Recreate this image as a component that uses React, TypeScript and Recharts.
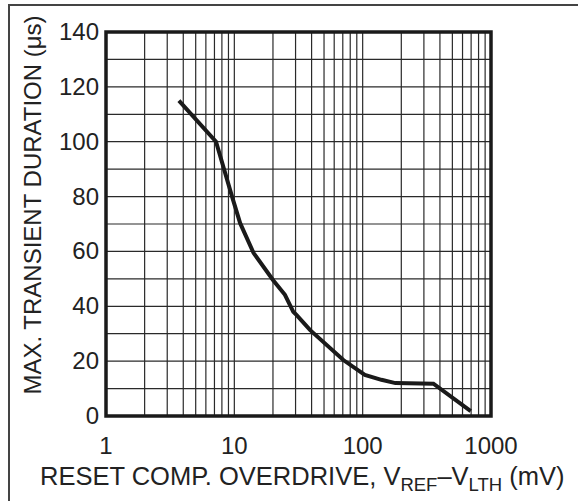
import { LineChart, Line, XAxis, YAxis, CartesianGrid, ReferenceArea } from "recharts";

// values
const overdrive = [3.7, 7.2, 9.6, 11.1, 14.1, 20, 24.8, 28.8, 30.6, 39, 70.7, 104, 140, 180, 356, 695];
const duration = [115, 100, 80, 70.3, 59.5, 49.6, 44.2, 38, 36.8, 31.3, 20.4, 15, 13.2, 12, 11.8, 1.8];

const xTicks = [
  1, 2, 3, 4, 5, 6, 7, 8, 9,
  10, 20, 30, 40, 50, 60, 70, 80, 90,
  100, 200, 300, 400, 500, 600, 700, 800, 900,
  1000,
];
const xLabels = [1, 10, 100, 1000];
const yTicks = [0, 10, 20, 30, 40, 50, 60, 70, 80, 90, 100, 110, 120, 130, 140];
const yLabels = [0, 20, 40, 60, 80, 100, 120, 140];

const data = overdrive.map((x, i) => ({ x, y: duration[i] }));

const FONT = "'Liberation Sans', Arial, Helvetica, sans-serif";
const INK = "#222";

function XTick(props: any) {
  const { x, y, payload } = props;
  if (!xLabels.includes(payload.value)) return null;
  return (
    <text x={x} y={y + 30} textAnchor="middle" fontFamily={FONT} fontSize={24} fill={INK}>
      {payload.value}
    </text>
  );
}

function YTick(props: any) {
  const { x, y, payload } = props;
  if (!yLabels.includes(payload.value)) return null;
  return (
    <text x={x + 1} y={y + 8} textAnchor="end" fontFamily={FONT} fontSize={24} fill={INK}>
      {payload.value}
    </text>
  );
}

function XTitle() {
  return (
    <text x={40} y={485} fontFamily={FONT} fontSize={25.5} fill={INK}>
      RESET COMP. OVERDRIVE, V
      <tspan fontSize={18.5} dy={6}>REF</tspan>
      <tspan dy={-6}>–V</tspan>
      <tspan fontSize={18.5} dy={6}>LTH</tspan>
      <tspan dy={-6}> (mV)</tspan>
    </text>
  );
}

function YTitle() {
  return (
    <text
      x={0}
      y={0}
      transform="translate(41 205) rotate(-90)"
      textAnchor="middle"
      fontFamily={FONT}
      fontSize={24}
      fill={INK}
    >
      MAX. TRANSIENT DURATION (μs)
    </text>
  );
}

export default function App() {
  return (
    <div style={{ position: "absolute", left: 0, top: 0, width: 578, height: 501, background: "#fff" }}>
      <div
        style={{
          position: "absolute",
          left: 8,
          top: 4,
          right: 0,
          bottom: 0,
          borderTop: "2px solid #444",
          borderLeft: "2px solid #444",
        }}
      />
      <LineChart
        width={578}
        height={501}
        data={data}
        margin={{ top: 32, right: 87, bottom: 45, left: 46 }}
        style={{ position: "absolute", left: 0, top: 0 }}
      >
        <CartesianGrid stroke="#2a2a2a" strokeWidth={1.2} />
        <XAxis
          dataKey="x"
          type="number"
          scale="log"
          domain={[1, 1000]}
          ticks={xTicks}
          interval={0}
          tick={<XTick />}
          tickLine={false}
          axisLine={false}
          height={40}
          allowDataOverflow
          label={<XTitle />}
        />
        <YAxis
          type="number"
          domain={[0, 140]}
          ticks={yTicks}
          interval={0}
          tick={<YTick />}
          tickLine={false}
          axisLine={false}
          width={60}
          label={<YTitle />}
        />
        <ReferenceArea x1={1} x2={1000} y1={0} y2={140} fill="none" stroke="#1a1a1a" strokeWidth={3.5} />
        <Line
          dataKey="y"
          type="linear"
          stroke="#1a1a1a"
          strokeWidth={4}
          dot={false}
          isAnimationActive={false}
        />
      </LineChart>
    </div>
  );
}
